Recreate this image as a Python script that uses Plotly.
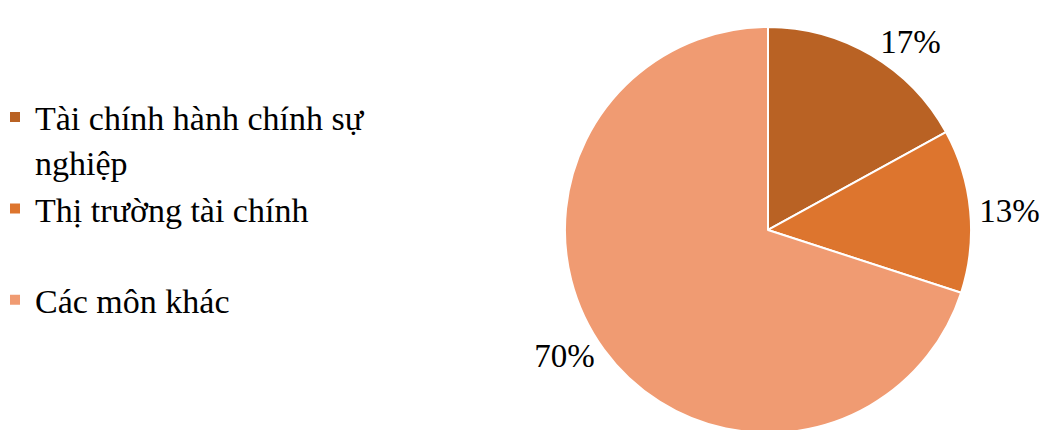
import plotly.graph_objects as go

labels = ["Tài chính hành chính sự<br>nghiệp", "Thị trường tài chính<br> ", "Các môn khác"]
values = [17, 13, 70]
colors = ["#B96224", "#DD752E", "#F09B72"]

FONT = "Liberation Serif"

fig = go.Figure(go.Pie(
    labels=labels,
    values=values,
    sort=False,
    direction="clockwise",
    rotation=0,
    marker=dict(colors=colors, line=dict(color="white", width=2)),
    textinfo="percent",
    texttemplate="%{percent:.0%}",
    textposition="outside",
    textfont=dict(family=FONT, size=33, color="black"),
    hoverinfo="label+percent",
    domain=dict(x=[552/1053, 968/1053], y=[3/430, 411/430]),
    showlegend=True,
))

fig.update_layout(
    width=1053, height=430,
    margin=dict(l=0, r=0, t=0, b=0),
    paper_bgcolor="white",
    plot_bgcolor="white",
    font=dict(family=FONT, size=34, color="black"),
    legend=dict(
        x=0, y=0.812, xanchor="left", yanchor="top",
        font=dict(family=FONT, size=34, color="black"),
        valign="top",
        indentation=-13,
        bgcolor="rgba(0,0,0,0)",
    ),
)

fig.write_html("out.html")
